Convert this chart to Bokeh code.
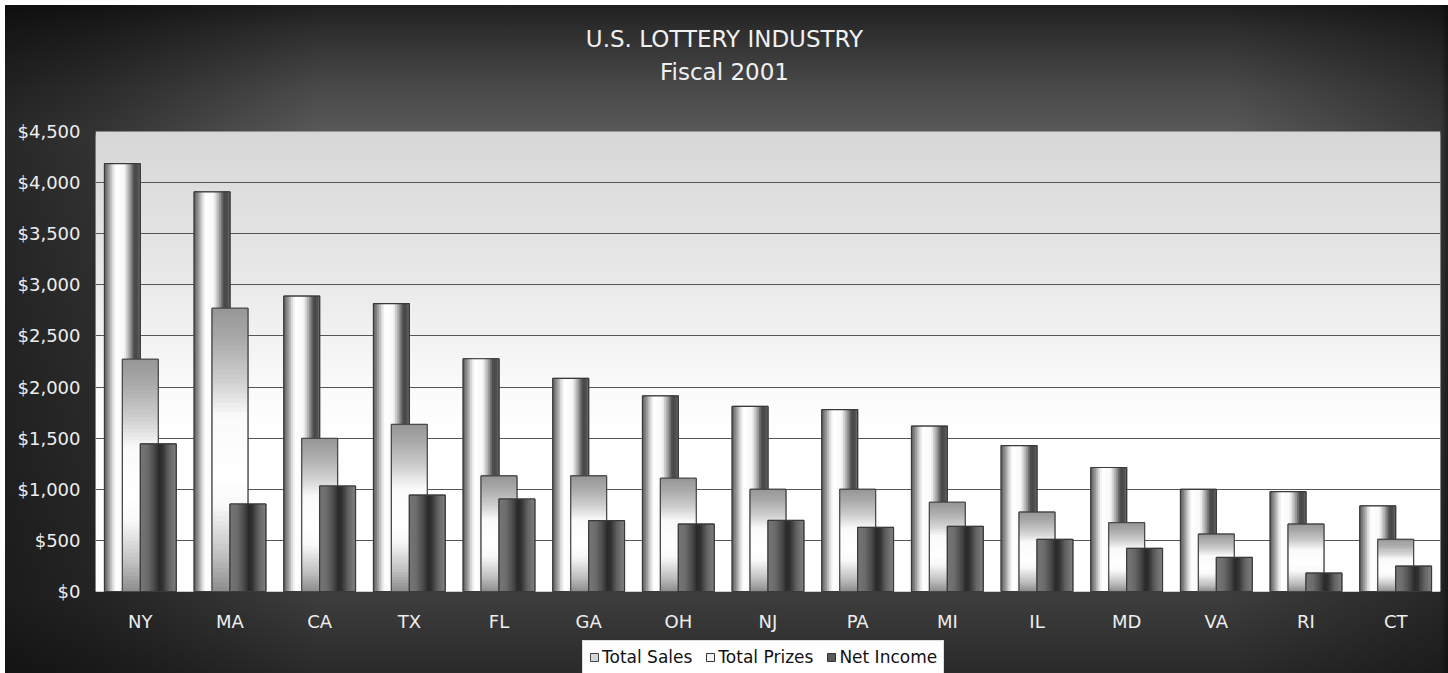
import numpy as np
from bokeh.plotting import figure
from bokeh.models import (ColumnDataSource, FactorRange, Range1d, FixedTicker, NumeralTickFormatter,
                          Legend, LegendItem, Label, InlineStyleSheet)
from bokeh.transform import dodge
from bokeh.core.properties import value
from bokeh.embed import file_html
from bokeh.resources import INLINE

# ---------------- data ----------------
states = ["NY", "MA", "CA", "TX", "FL", "GA", "OH", "NJ", "PA", "MI", "IL", "MD", "VA", "RI", "CT"]
total_sales = [4185, 3910, 2890, 2817, 2277, 2085, 1913, 1811, 1780, 1618, 1428, 1213, 1000, 977, 837]
total_prizes = [2272, 2771, 1497, 1634, 1131, 1131, 1108, 1000, 1000, 873, 777, 673, 562, 660, 510]
net_income = [1444, 856, 1032, 943, 905, 693, 660, 695, 627, 637, 510, 422, 333, 180, 248]
series_names = ["Total Sales", "Total Prizes", "Net Income"]
y_ticks = [0, 500, 1000, 1500, 2000, 2500, 3000, 3500, 4000, 4500]
title_text = "U.S. LOTTERY INDUSTRY"
subtitle_text = "Fiscal 2001"

# ---------------- layout / style constants ----------------
FONT = "DejaVu Sans"
W, H = 1448, 673
LEFT, RIGHT = 95, 8            # frame borders (px)
TOP_PX, ZERO_PX = 131, 591     # screen rows of the $4,500 and $0 lines
YMAX = y_ticks[-1]
U = YMAX / (ZERO_PX - TOP_PX)  # data units per pixel
BAR_W = 0.4
OFFSETS = [-0.2, 0.0, 0.2]
ncat = len(states)
CAT_PX = (W - LEFT - RIGHT) / ncat


def px_to_y(py):
    return (ZERO_PX - py) * U


def gray(v):
    v = int(round(max(0, min(255, v))))
    return "#{0:02x}{0:02x}{0:02x}".format(v)


def prof(points, t):
    xs, vs = zip(*points)
    return np.interp(t, xs, vs)


source = ColumnDataSource(dict(state=states, sales=total_sales, prizes=total_prizes, net=net_income))

p = figure(x_range=FactorRange(*states), y_range=Range1d(px_to_y(H), px_to_y(0)), width=W, height=H,
           output_backend="svg", toolbar_location=None,
           min_border_left=LEFT, min_border_right=RIGHT, min_border_top=0, min_border_bottom=0)
p.border_fill_alpha = 0
p.background_fill_alpha = 0
p.outline_line_color = None

p.stylesheets = [InlineStyleSheet(css=(
    ":host { background:"
    " linear-gradient(to right, rgba(0,0,0,0.55) 0px, rgba(0,0,0,0.42) 95px, rgba(0,0,0,0) 320px,"
    " rgba(0,0,0,0) calc(100% - 220px), rgba(0,0,0,0.35) calc(100% - 8px), rgba(0,0,0,0.6) 100%),"
    " linear-gradient(to bottom, #1c1c1c 0px, #2e2e2e 30px, #4a4a4a 90px, #575757 128px,"
    " #3c3c3c 600px, #2a2a2a 673px);"
    " box-shadow: inset 5px 5px 0 0 #ffffff; }"))]

# plot-area vertical gradient (light grey at top -> white), drawn top-down with overlap
bg_y = np.arange(0, YMAX, 30)[::-1]
bg_col = [gray(prof([(0, 255), (1500, 255), (2000, 250), (2500, 242), (3000, 234),
                     (3500, 227), (4000, 221), (4500, 215)], y + 15)) for y in bg_y]
p.quad(left=0, right=ncat, bottom=np.maximum(bg_y - 30, 0), top=bg_y + 30, fill_color=bg_col,
       line_color=None, level="image")

# grid
p.xgrid.visible = False
p.ygrid.ticker = FixedTicker(ticks=y_ticks[1:-1])
p.ygrid.grid_line_color = "#555555"
p.ygrid.grid_line_width = 1

centers = np.arange(ncat) + 0.5

sales_prof = [(0, 95), (0.1, 140), (0.25, 232), (0.33, 255), (0.55, 248), (0.7, 165),
              (0.82, 80), (0.9, 68), (1.0, 110)]
net_prof = [(0, 118), (0.2, 108), (0.4, 72), (0.52, 42), (0.62, 50), (0.8, 100), (1.0, 128)]
prize_prof = [(0, 140), (0.12, 190), (0.3, 248), (0.4, 255), (0.62, 250), (0.75, 205),
              (0.9, 168), (1.0, 150)]


def horiz_strips(vals, off, profile, n=20):
    L, R, T, C = [], [], [], []
    step = BAR_W / n
    for i, v in enumerate(vals):
        left0 = centers[i] + off - BAR_W / 2
        for k in range(n):
            L.append(left0 + k * step)
            R.append(min(left0 + (k + 1.5) * step, left0 + BAR_W))
            T.append(v)
            C.append(gray(prof(profile, (k + 0.5) / n)))
    p.quad(left=L, right=R, bottom=0, top=T, fill_color=C, line_color=None)


def vert_strips(vals, off, profile, n=60):
    L, R, B, T, C = [], [], [], [], []
    for i, v in enumerate(vals):
        left0 = centers[i] + off - BAR_W / 2
        for k in range(n):
            L.append(left0)
            R.append(left0 + BAR_W)
            B.append(v * k / n)
            T.append(min(v * (k + 1.6) / n, v))
            C.append(gray(prof(profile, (k + 0.5) / n)))
    p.quad(left=L, right=R, bottom=B, top=T, fill_color=C, line_color=None)


base = []
# Total Sales
r = p.vbar(x=dodge("state", OFFSETS[0], range=p.x_range), top="sales", width=BAR_W, source=source,
           fill_color="#d6d6d6", line_color="#444444")
base.append(r)
horiz_strips(total_sales, OFFSETS[0], sales_prof)
p.vbar(x=dodge("state", OFFSETS[0], range=p.x_range), top="sales", width=BAR_W, source=source,
       fill_alpha=0, line_color="#3a3a3a", line_width=1.2)

# Total Prizes
r = p.vbar(x=dodge("state", OFFSETS[1], range=p.x_range), top="prizes", width=BAR_W, source=source,
           fill_color="#f4f4f4", line_color="#333333")
base.append(r)
vert_strips(total_prizes, OFFSETS[1], prize_prof)
p.vbar(x=dodge("state", OFFSETS[1], range=p.x_range), top="prizes", width=BAR_W, source=source,
       fill_alpha=0, line_color="#4a4a4a", line_width=1.2)

# Net Income
r = p.vbar(x=dodge("state", OFFSETS[2], range=p.x_range), top="net", width=BAR_W, source=source,
           fill_color="#5a5a5a", line_color="#333333")
base.append(r)
horiz_strips(net_income, OFFSETS[2], net_prof)
p.vbar(x=dodge("state", OFFSETS[2], range=p.x_range), top="net", width=BAR_W, source=source,
       fill_alpha=0, line_color="#3a3a3a", line_width=1.2)

# y axis
p.yaxis.ticker = FixedTicker(ticks=y_ticks)
p.yaxis.formatter = NumeralTickFormatter(format="$0,0")
p.yaxis.axis_line_color = None
p.yaxis.major_tick_line_color = None
p.yaxis.minor_tick_line_color = None
p.yaxis.major_tick_out = 0
p.yaxis.major_label_text_color = "#eeeeee"
p.yaxis.major_label_text_font = FONT
p.yaxis.major_label_text_font_size = "18px"
p.yaxis.major_label_standoff = 15

# x axis: category labels drawn below the $0 line
p.xaxis.visible = False
p.text(x="state", y=px_to_y(621), text="state", source=source, text_font=value(FONT),
       text_font_size="18px", text_color="#eeeeee", text_align="center", text_baseline="middle")

# legend, centred under the plot
legend = Legend(items=[LegendItem(label=n, renderers=[r]) for n, r in zip(series_names, base)],
                orientation="horizontal", location=(487, -1),
                background_fill_color="white", background_fill_alpha=1, border_line_color="#bbbbbb",
                label_text_font=FONT, label_text_font_size="17px", label_text_color="#111111",
                glyph_width=10, glyph_height=10, label_standoff=3, spacing=13, padding=6, margin=0)
p.add_layout(legend, "center")

# titles, centred on the whole canvas
xc = (W / 2 - LEFT) / CAT_PX
p.add_layout(Label(x=xc, y=px_to_y(38.5), text=title_text, text_align="center", text_baseline="middle",
                   text_font=FONT, text_font_size="23px", text_color="#f0f0f0"))
p.add_layout(Label(x=xc, y=px_to_y(71), text=subtitle_text, text_align="center", text_baseline="middle",
                   text_font=FONT, text_font_size="23px", text_color="#f0f0f0"))

open("out.html", "w").write(file_html(p, INLINE))
